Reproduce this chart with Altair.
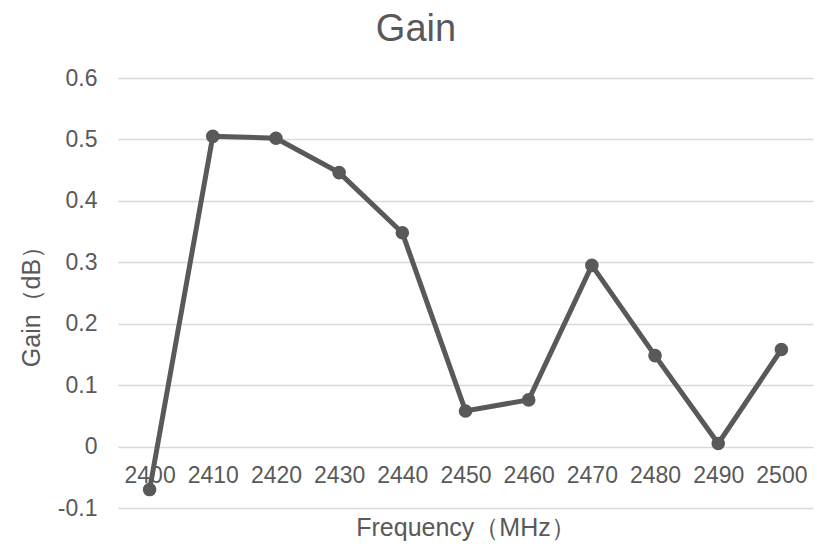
import altair as alt
import pandas as pd

freq = [2400, 2410, 2420, 2430, 2440, 2450, 2460, 2470, 2480, 2490, 2500]
gain = [-0.070, 0.505, 0.502, 0.446, 0.348, 0.058, 0.076, 0.295, 0.148, 0.005, 0.158]
y_ticks = [-0.1, 0.0, 0.1, 0.2, 0.3, 0.4, 0.5, 0.6]

df = pd.DataFrame({"freq": freq, "gain": gain})

FONT = "Liberation Sans"
GREY = "#595959"
H = 430
W = 695

x_enc = alt.X(
    "freq:O",
    scale=alt.Scale(type="point", padding=0.5),
    axis=alt.Axis(
        title="Frequency（MHz）",
        labelAngle=0,
        domain=False,
        ticks=False,
        grid=False,
        labelFontSize=23,
        labelColor=GREY,
        labelFont=FONT,
        labelPadding=18,
        labelBaseline="top",
        offset=-H / 7.0,
        titleFontSize=25,
        titleFont=FONT,
        titleColor=GREY,
        titleFontWeight="normal",
        titleBaseline="alphabetic",
        titleY=89,
    ),
)
y_enc = alt.Y(
    "gain:Q",
    scale=alt.Scale(domain=[-0.1, 0.6], nice=False, zero=False),
    axis=alt.Axis(
        title="Gain（dB）",
        values=y_ticks,
        labelExpr="'' + round(datum.value*10)/10",
        domain=False,
        ticks=False,
        grid=True,
        gridColor="#d9d9d9",
        gridWidth=1.3,
        labelFontSize=23,
        labelColor=GREY,
        labelFont=FONT,
        labelPadding=21,
        titleFontSize=25,
        titleFont=FONT,
        titleColor=GREY,
        titleFontWeight="normal",
        titleBaseline="alphabetic",
        titleAngle=270,
        titleX=-79,
        titleY=222,
    ),
)

line = alt.Chart(df).mark_line(color=GREY, strokeWidth=5).encode(x=x_enc, y=y_enc)
pts = alt.Chart(df).mark_point(filled=True, color=GREY, size=185, opacity=1).encode(x=x_enc, y=y_enc)

chart = (
    alt.layer(line, pts)
    .properties(
        width=W,
        height=H,
        background="white",
        title=alt.TitleParams(
            "Gain",
            fontSize=38,
            font=FONT,
            color=GREY,
            fontWeight="normal",
            anchor="middle",
            frame="bounds",
            offset=18,
        ),
        autosize=alt.AutoSizeParams(type="none"),
        padding={"left": 110, "top": 70, "right": 7, "bottom": 38},
    )
    .configure_view(stroke=None)
)

chart.save("out.html", embed_options={"renderer": "svg", "actions": False})
